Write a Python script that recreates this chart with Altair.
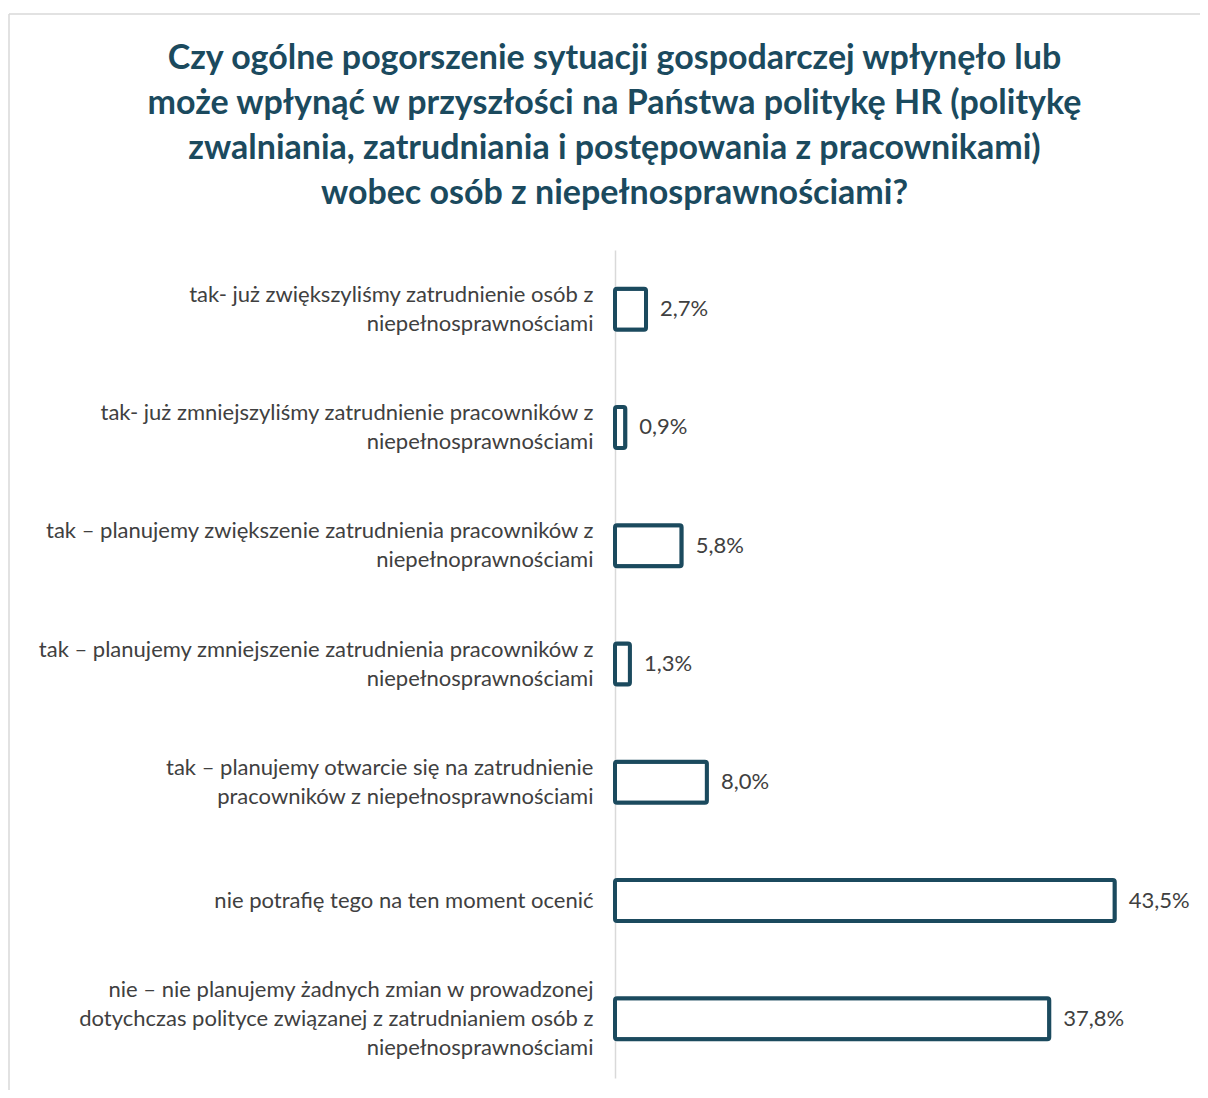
import altair as alt
import pandas as pd

TEAL = "#1B4A5E"
GREY_TEXT = "#404040"
FONT = "Lato"

title_lines = [
    "Czy ogólne pogorszenie sytuacji gospodarczej wpłynęło lub",
    "może wpłynąć w przyszłości na Państwa politykę HR (politykę",
    "zwalniania, zatrudniania i postępowania z pracownikami)",
    "wobec osób z niepełnosprawnościami?",
]

categories = [
    "tak- już zwiększyliśmy zatrudnienie osób z|niepełnosprawnościami",
    "tak- już zmniejszyliśmy zatrudnienie pracowników z|niepełnosprawnościami",
    "tak – planujemy zwiększenie zatrudnienia pracowników z|niepełnoprawnościami",
    "tak – planujemy zmniejszenie zatrudnienia pracowników z|niepełnosprawnościami",
    "tak –  planujemy otwarcie się na zatrudnienie|pracowników z niepełnosprawnościami",
    "nie potrafię tego na ten moment ocenić",
    "nie – nie planujemy żadnych zmian w prowadzonej|dotychczas polityce związanej z zatrudnianiem osób z|niepełnosprawnościami",
]
values = [2.7, 0.9, 5.8, 1.3, 8.0, 43.5, 37.8]

df = pd.DataFrame({"cat": categories, "value": values})

LINE_H = 29

base = alt.Chart(df).encode(
    y=alt.Y(
        "cat:N",
        sort=categories,
        scale=alt.Scale(paddingInner=0.6, paddingOuter=0.3),
        axis=alt.Axis(
            title=None,
            labelExpr="split(datum.label, '|')",
            labelFont=FONT,
            labelFontSize=22,
            labelColor=GREY_TEXT,
            labelLineHeight=LINE_H,
            labelPadding=22,
            labelLimit=800,
            labelOffset={
                "condition": [
                    {"test": "length(split(datum.value, '|')) == 3", "value": -LINE_H},
                    {"test": "length(split(datum.value, '|')) == 2", "value": -LINE_H / 2},
                ],
                "value": 0,
            },
            ticks=False,
            domainColor="#d9d9d9",
            domainWidth=1.5,
            grid=False,
        ),
    ),
    x=alt.X("value:Q", scale=alt.Scale(domain=[0, 45]), axis=None),
)

bars = base.mark_bar(
    fill="white", stroke=TEAL, strokeWidth=4, size=41, cornerRadius=2
)

labels = base.transform_calculate(
    lab="replace(format(datum.value, '.1f'), '.', ',') + '%'"
).mark_text(
    align="left", baseline="middle", dx=14, font=FONT, fontSize=22, color=GREY_TEXT
).encode(text="lab:N")

frame_df = pd.DataFrame({"a": [0]})
frame_top = alt.Chart(frame_df).mark_rule(color="#d9d9d9", strokeWidth=1.5).encode(
    x=alt.value(-606), x2=alt.value(600), y=alt.value(-236)
)
frame_left = alt.Chart(frame_df).mark_rule(color="#d9d9d9", strokeWidth=1.5).encode(
    x=alt.value(-606), y=alt.value(-236), y2=alt.value(840)
)

chart = (
    alt.layer(frame_top, frame_left, bars, labels)
    .properties(
        width=517,
        height=828,
        background="white",
        autosize=alt.AutoSizeParams(type="none"),
        padding={"left": 607, "top": 242, "right": 68, "bottom": 12},
        title=alt.TitleParams(
            text=title_lines,
            font=FONT,
            fontSize=34,
            fontWeight="bold",
            color=TEAL,
            lineHeight=45,
            anchor="middle",
            dx=-259,
            dy=236,
            offset=38,
        ),
    )
    .configure_view(stroke=None, strokeWidth=0)
)

chart.save("out.html", embed_options={"renderer": "svg", "actions": False})
